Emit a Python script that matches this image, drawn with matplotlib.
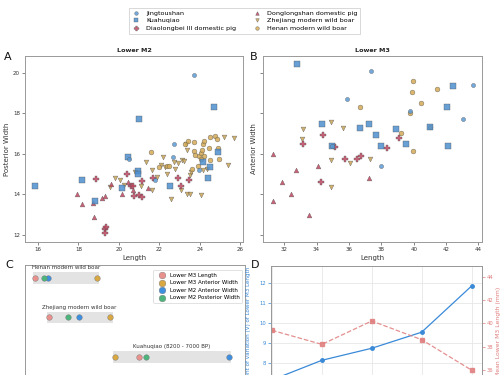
import matplotlib
matplotlib.use("Agg")
import matplotlib.pyplot as plt
from matplotlib.lines import Line2D

# ---------------- data ----------------
# Panel A: Lower M2 (Length, Posterior Width)
jts_m2_len = [23.72, 22.71, 22.68, 20.50, 21.80, 23.98]
jts_m2_pw = [19.91, 16.50, 15.82, 15.72, 14.69, 15.19]
kuh_m2_len = [15.85, 18.20, 18.80, 20.15, 21.00, 20.43, 20.93, 20.93, 22.53, 24.72, 24.92, 24.14, 24.52, 24.39]
kuh_m2_pw = [14.38, 14.72, 13.65, 14.30, 17.72, 15.84, 15.15, 15.00, 14.41, 18.31, 16.09, 15.58, 15.32, 14.81]
dlb_m2_len = [18.86, 19.33, 19.39, 19.33, 20.38, 20.60, 20.68, 20.76, 21.01, 21.14, 21.14, 21.67, 22.91, 23.07, 23.49]
dlb_m2_pw = [14.77, 12.26, 12.36, 12.07, 14.98, 14.42, 14.40, 13.93, 13.95, 13.85, 14.63, 14.82, 14.79, 14.38, 14.69]
dls_m2_len = [17.95, 18.17, 18.70, 18.78, 19.19, 19.33, 19.61, 20.18, 20.43, 20.68, 21.42]
dls_m2_pw = [13.98, 13.49, 13.57, 12.88, 13.79, 13.90, 14.49, 13.98, 14.58, 14.20, 14.31]
zj_m2_len = [19.80, 20.07, 19.55, 20.25, 20.80, 21.35, 21.62, 21.65, 21.08, 22.10, 22.20, 22.28, 22.36,
             22.60, 22.72, 22.78, 23.05, 23.12, 23.22, 23.30, 23.38, 23.50, 23.58, 23.38, 23.50, 24.05,
             24.15, 24.38, 25.18, 25.68, 25.40, 22.95, 21.90]
zj_m2_pw = [14.81, 14.71, 14.33, 14.45, 15.07, 15.57, 15.21, 14.19, 14.38, 15.45, 15.81, 15.32, 15.01,
            13.78, 15.57, 15.25, 14.22, 15.70, 15.62, 16.49, 16.19, 14.96, 15.07, 14.02, 14.00, 13.94,
            15.21, 15.25, 16.83, 16.78, 15.45, 15.55, 14.85]
hn_m2_len = [21.59, 21.99, 22.39, 22.50, 23.27, 23.72, 23.70, 23.78, 23.92, 23.98, 24.05, 24.10, 24.15,
             24.22, 24.50, 24.48, 24.50, 24.75, 24.85, 24.92, 24.97, 24.20, 24.05, 23.62, 23.40]
hn_m2_pw = [16.06, 15.34, 15.37, 15.37, 16.49, 16.60, 16.11, 15.94, 15.37, 15.86, 16.03, 16.19, 16.49,
            16.65, 16.81, 16.30, 15.68, 16.86, 16.72, 16.27, 15.76, 15.88, 15.72, 15.24, 16.62]

# Panel B: Lower M3 (Length, Anterior Width)
kuh_m3_len = [32.82, 34.33, 34.98, 36.67, 37.25, 37.66, 37.97, 38.93, 39.55, 40.99, 42.08, 42.43, 42.14]
kuh_m3_aw = [20.41, 17.48, 16.38, 17.27, 17.45, 16.91, 16.38, 17.23, 16.46, 17.32, 18.30, 19.37, 16.38]
jts_m3_len = [37.35, 35.91, 34.95, 37.97, 39.76, 43.05, 43.67]
jts_m3_aw = [20.08, 18.68, 16.40, 15.39, 18.09, 17.70, 19.39]
hn_m3_len = [39.98, 39.88, 41.42, 40.46, 36.69, 39.76, 39.20, 40.99, 39.96]
hn_m3_aw = [19.59, 19.05, 19.19, 18.50, 18.29, 18.02, 17.04, 17.32, 16.13]
zj_m3_len = [33.19, 33.13, 34.88, 35.64, 34.88, 36.07, 37.29, 34.88]
zj_m3_aw = [17.22, 16.74, 17.56, 17.27, 15.69, 15.56, 15.74, 14.35]
dlb_m3_len = [33.19, 34.41, 35.13, 35.77, 36.49, 36.77, 38.38, 39.12, 34.28]
dlb_m3_aw = [16.49, 16.91, 16.33, 15.75, 15.75, 15.90, 16.28, 16.79, 14.60]
dls_m3_len = [31.32, 32.74, 34.06, 31.84, 32.45, 31.32, 33.54, 37.25]
dls_m3_aw = [15.98, 15.18, 15.37, 14.58, 13.99, 13.68, 12.99, 14.80]

# Panel C: per-group positions of the four measurements
c_groups = ["Henan modern wild boar", "Zhejiang modern wild boar", "Kuahuqiao (8200 - 7000 BP)"]
c_m3_length = [4.5, 10.8, 51.9]
c_m3_ant_width = [32.7, 38.8, 40.9]
c_m2_ant_width = [10.3, 24.7, 92.7]
c_m2_post_width = [8.8, 19.4, 54.9]

# Panel D: CV and mean of Lower M3 length
d_x = [0, 1, 2, 3, 4]
d_cv = [7.15, 8.13, 8.73, 9.53, 11.83]
d_mean = [39.4, 38.2, 40.2, 38.6, 36.0]

# ---------------- style ----------------
BLUE1 = "#5b9bd5"
BLUE2 = "#4d8fcf"
RED = "#c0455f"
GOLD1 = "#c9a455"
GOLD2 = "#d4aa55"
TXT = "#333333"
SP = "#999999"

fig = plt.figure(figsize=(5, 3.75), dpi=100)
W, H = 500.0, 375.0


def pos(l, t, r, b):
    return [l / W, 1 - b / H, (r - l) / W, (b - t) / H]


axA = fig.add_axes(pos(25, 56, 243, 242))
axB = fig.add_axes(pos(263, 56, 482, 242), sharey=axA)
axC = fig.add_axes(pos(25, 265, 245, 397))
axD = fig.add_axes(pos(271, 266, 482, 397))

series_kw = dict(alpha=0.85, edgecolors="#555555", linewidths=0.3)


def scatter_all(ax, data):
    for (x, y, c, m, s) in data:
        ax.scatter(x, y, c=c, marker=m, s=s, **series_kw)


scatter_all(axA, [
    (zj_m2_len, zj_m2_pw, GOLD1, "v", 12),
    (hn_m2_len, hn_m2_pw, GOLD2, "o", 12),
    (dls_m2_len, dls_m2_pw, RED, "^", 12),
    (dlb_m2_len, dlb_m2_pw, RED, "P", 20),
    (kuh_m2_len, kuh_m2_pw, BLUE2, "s", 14),
    (jts_m2_len, jts_m2_pw, BLUE1, "o", 9),
])
scatter_all(axB, [
    (zj_m3_len, zj_m3_aw, GOLD1, "v", 12),
    (hn_m3_len, hn_m3_aw, GOLD2, "o", 12),
    (dls_m3_len, dls_m3_aw, RED, "^", 12),
    (dlb_m3_len, dlb_m3_aw, RED, "P", 20),
    (kuh_m3_len, kuh_m3_aw, BLUE2, "s", 14),
    (jts_m3_len, jts_m3_aw, BLUE1, "o", 9),
])

axA.set_xlim(15.36, 26.14)
axA.set_ylim(11.63, 20.83)
axB.set_xlim(30.69, 44.22)
axA.set_xticks([16, 18, 20, 22, 24, 26])
axA.set_yticks([12, 14, 16, 18, 20])
axB.set_xticks([32, 34, 36, 38, 40, 42, 44])
plt.setp(axB.get_yticklabels(), visible=False)

for ax, t, yl in [(axA, "Lower M2", "Posterior Width"), (axB, "Lower M3", "Anterior Width")]:
    ax.set_title(t, fontsize=4.6, fontweight="bold", pad=3, color="#222222")
    ax.set_xlabel("Length", fontsize=5, labelpad=2, color=TXT)
    ax.set_ylabel(yl, fontsize=5, labelpad=2, color=TXT)
    ax.tick_params(labelsize=4, length=2, width=0.5, pad=1.5, colors="#555555", labelcolor=TXT)
    for s in ax.spines.values():
        s.set_color(SP)
        s.set_linewidth(0.7)

# Panel C
c_colors = {"Lower M3 Length": "#e8918d", "Lower M3 Anterior Width": "#d9a842",
            "Lower M2 Anterior Width": "#3e8fe0", "Lower M2 Posterior Width": "#4db57c"}
c_vals = {"Lower M3 Length": c_m3_length, "Lower M3 Anterior Width": c_m3_ant_width,
          "Lower M2 Anterior Width": c_m2_ant_width, "Lower M2 Posterior Width": c_m2_post_width}
for i, g in enumerate(c_groups):
    vals = [c_vals[k][i] for k in c_vals]
    lo, hi = min(vals), max(vals)
    axC.barh(i, hi - lo + 2.0, left=lo - 1.0, height=0.3, color="#e3e3e3", zorder=1)
    axC.text((lo + hi) / 2, i - 0.2, g, fontsize=4, ha="center", va="bottom", color=TXT)
for k, vals in c_vals.items():
    axC.scatter(vals, range(len(c_groups)), s=16, c=c_colors[k], edgecolors="#777777",
                linewidths=0.3, zorder=3, label=k)
axC.set_xlim(0, 100)
axC.set_ylim(3.0, -0.32)
axC.set_xticks([])
axC.set_yticks([])
for s in axC.spines.values():
    s.set_color(SP)
    s.set_linewidth(0.7)
legC = axC.legend(loc="upper right", fontsize=4, frameon=True, borderpad=0.5, labelspacing=0.45,
                  handletextpad=0.4, markerscale=1.2, bbox_to_anchor=(1.0, 0.985))
legC.get_frame().set_linewidth(0.5)
legC.get_frame().set_edgecolor("#cccccc")

# Panel D
CVC = "#3a8ad8"
MC = "#e07d7d"
axD.plot(d_x, d_cv, color=CVC, lw=0.9, marker="o", ms=2.5, zorder=3)
axD.set_xlim(-0.02, 4.21)
axD.set_ylim(6.3, 12.83)
axD.set_yticks([8, 9, 10, 11, 12])
axD.set_xticks(d_x)
axD.set_xticklabels([])
axD.grid(True, color="#e6e6e6", lw=0.6)
axD.set_axisbelow(True)
axD.tick_params(axis="y", labelsize=3.8, length=2, width=0.5, pad=1.5, colors=CVC, labelcolor=CVC)
axD.tick_params(axis="x", length=2, width=0.5)
axD.set_ylabel("Coefficient of variation (V) of Lower M3 Length", fontsize=4.1, color=CVC, labelpad=6)
axD2 = axD.twinx()
axD2.plot(d_x, d_mean, color=MC, lw=0.9, ls="--", marker="s", ms=2.5, alpha=0.85)
axD2.set_ylim(33.7, 44.9)
axD2.set_yticks([36, 38, 40, 42, 44])
axD2.tick_params(axis="y", labelsize=3.8, length=2, width=0.5, pad=1.5, colors=MC, labelcolor=MC)
axD2.set_ylabel("Mean Lower M3 Length (mm)", fontsize=4.4, color=MC, labelpad=2)
for a in (axD, axD2):
    for s in a.spines.values():
        s.set_color(SP)
        s.set_linewidth(0.7)

# panel letters
for x, y, l in [(4, 60, "A"), (250, 60, "B"), (5, 268, "C"), (251, 268, "D")]:
    fig.text(x / W, 1 - y / H, l, fontsize=8, color="#111111", ha="left", va="baseline")

# top legend
handles = [
    Line2D([], [], ls="", marker="o", ms=2.6, mfc=BLUE1, mec="#555555", mew=0.3, alpha=0.85),
    Line2D([], [], ls="", marker="s", ms=2.6, mfc=BLUE2, mec="#555555", mew=0.3, alpha=0.85),
    Line2D([], [], ls="", marker="P", ms=3.5, mfc=RED, mec="#555555", mew=0.3, alpha=0.85),
    Line2D([], [], ls="", marker="^", ms=2.6, mfc=RED, mec="#555555", mew=0.3, alpha=0.85),
    Line2D([], [], ls="", marker="v", ms=2.6, mfc=GOLD1, mec="#555555", mew=0.3, alpha=0.85),
    Line2D([], [], ls="", marker="o", ms=2.6, mfc=GOLD2, mec="#555555", mew=0.3, alpha=0.85),
]
labels = ["Jingtoushan", "Kuahuqiao", "Diaolongbei III domestic pig", "Donglongshan domestic pig",
          "Zhejiang modern wild boar", "Henan modern wild boar"]
leg = fig.legend(handles, labels, ncol=2, loc="upper center", bbox_to_anchor=(244.5 / W, 1 - 4.5 / H),
                 fontsize=4.6, frameon=True, borderpad=0.45, labelspacing=0.3, handletextpad=0.8,
                 columnspacing=2.5, handlelength=1.5)
leg.get_frame().set_linewidth(0.5)
leg.get_frame().set_edgecolor("#bbbbbb")
leg.get_frame().set_boxstyle("square", pad=0)

fig.savefig("out.png", dpi=100)
